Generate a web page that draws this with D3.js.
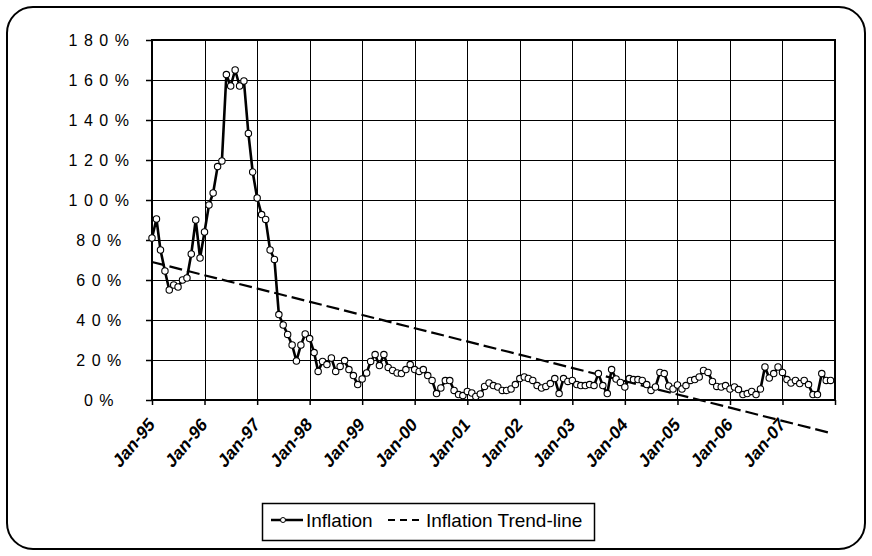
<!DOCTYPE html>
<html>
<head>
<meta charset="utf-8">
<script src="https://cdn.jsdelivr.net/npm/d3@7"></script>
<style>
  body { margin: 0; background: #fff; }
  svg { font-family: "Liberation Sans", Arial, sans-serif; }
</style>
</head>
<body>
<svg id="chart" width="872" height="556"></svg>
<script>
// monthly inflation, % (Jan-95 .. Dec-07)
const firstMonth = '1995-01';
const inflation = [
  81, 90.5, 75, 64.5, 55, 57.5, 56.5, 60, 61, 73, 90, 71,
  84, 97.5, 103.5, 116.7, 119.5, 162.7, 157, 165, 157, 159.5, 133.3, 114,
  101, 92.7, 90.3, 75, 70.3, 42.7, 37.5, 32.8, 27.5, 19.5, 27.5, 33,
  30.7, 23.7, 14.3, 19.3, 17.7, 21, 14.3, 16.8, 19.7, 15.2, 12.2, 7.7,
  10.5, 13.5, 19.3, 22.7, 17.2, 22.7, 16.3, 14.8, 13.5, 13.2, 15.2, 17.7,
  15.2, 14.3, 15.2, 12.2, 9.8, 3.2, 6, 9.7, 9.7, 4.8, 2.7, 2.2,
  4.3, 3.5, 1.8, 3, 6.8, 8.5, 7.2, 6.5, 4.8, 4.8, 5.5, 7.7,
  10.7, 11.5, 10.8, 9.8, 7.2, 6, 6.8, 8.2, 10.7, 3.2, 10.7, 9.3,
  9.8, 7.7, 7.2, 7.2, 7.7, 7.2, 13.2, 7.2, 3.2, 15.2, 10.5, 8.8,
  6.5, 10.7, 10.2, 10.2, 9.8, 7.7, 4.8, 6.5, 13.8, 13.2, 7, 5.5,
  7.5, 5.5, 7.2, 9.8, 10.2, 11.5, 14.8, 13.8, 9.3, 6.8, 6.5, 7.2,
  5.5, 6.5, 5.2, 2.7, 3.2, 4.3, 2.7, 5.5, 16.5, 11, 13.2, 16.5,
  13.8, 10.2, 8.5, 9.8, 8.2, 9.8, 7.7, 2.7, 2.7, 13.2, 9.8, 9.8
];
const trendMonths = ['1995-01', '2007-12'];
const trendValues = [69, -16.5];
const yTicks = [0, 20, 40, 60, 80, 100, 120, 140, 160, 180];
const xDomain = ['1995-01', '2008-01'];
const legendLabels = ['Inflation', 'Inflation Trend-line'];

const parse = d3.timeParse('%Y-%m');
const start = parse(firstMonth);
const series = inflation.map((v, i) => ({ date: d3.timeMonth.offset(start, i), value: v }));
const trend = trendMonths.map((m, i) => ({ date: parse(m), value: trendValues[i] }));

const svg = d3.select('#chart');
const plot = { left: 152, right: 835, top: 40, bottom: 400 };

const x = d3.scaleTime()
  .domain(xDomain.map(parse))
  .range([plot.left, plot.right]);
const y = d3.scaleLinear()
  .domain([0, 180])
  .range([plot.bottom, plot.top]);

// outer rounded frame
svg.append('rect')
  .attr('x', 7).attr('y', 7)
  .attr('width', 858).attr('height', 542)
  .attr('rx', 26).attr('ry', 26)
  .attr('fill', '#fff')
  .attr('stroke', '#000')
  .attr('stroke-width', 2);

const yearTicks = d3.timeYear.range(parse(xDomain[0]), d3.timeMonth.offset(parse(xDomain[1]), 1));

// grid
const grid = svg.append('g').attr('stroke', '#000').attr('stroke-width', 1);
grid.selectAll('.h').data(yTicks).enter().append('line')
  .attr('x1', plot.left).attr('x2', plot.right)
  .attr('y1', (d) => y(d) + 0.5).attr('y2', (d) => y(d) + 0.5);
grid.selectAll('.v').data(yearTicks).enter().append('line')
  .attr('x1', (d) => Math.round(x(d)) + 0.5).attr('x2', (d) => Math.round(x(d)) + 0.5)
  .attr('y1', plot.top).attr('y2', plot.bottom);

// axes
const yAxis = svg.append('g')
  .attr('transform', `translate(${plot.left},0)`)
  .call(d3.axisLeft(y).tickValues(yTicks).tickSize(6).tickFormat((d) => d + '%'));
yAxis.select('.domain').remove();
yAxis.selectAll('line').attr('stroke', '#000').attr('stroke-width', 1.5);
yAxis.selectAll('text')
  .attr('font-size', 16)
  .attr('font-family', '"Liberation Sans", Arial, sans-serif')
  .attr('fill', '#000')
  .attr('letter-spacing', 6.5)
  .attr('text-anchor', 'middle')
  .attr('x', -50);

const fmt = d3.timeFormat('%b-%y');
const xAxis = svg.append('g')
  .attr('transform', `translate(0,${plot.bottom})`)
  .call(d3.axisBottom(x).tickValues(yearTicks).tickSize(5)
    .tickFormat((d) => d < parse(xDomain[1]) ? fmt(d) : ''));
xAxis.select('.domain').remove();
xAxis.selectAll('line').attr('stroke', '#000').attr('stroke-width', 1.5);
xAxis.selectAll('text')
  .attr('font-size', 16)
  .attr('font-weight', 'bold')
  .attr('font-family', '"Liberation Sans", Arial, sans-serif')
  .attr('fill', '#000')
  .attr('text-anchor', 'end')
  .attr('y', 0)
  .attr('dy', '0.35em')
  .attr('transform', 'translate(-1,21) scale(1,1.2) rotate(-45)');

// plot frame
svg.append('rect')
  .attr('x', plot.left).attr('y', plot.top)
  .attr('width', plot.right - plot.left).attr('height', plot.bottom - plot.top)
  .attr('fill', 'none')
  .attr('stroke', '#000')
  .attr('stroke-width', 2);

// trend line (Excel lets it run past the axis)
svg.append('path')
  .datum(trend)
  .attr('fill', 'none')
  .attr('stroke', '#000')
  .attr('stroke-width', 2.2)
  .attr('stroke-dasharray', '13,5')
  .attr('d', d3.line().x((d) => x(d.date)).y((d) => y(d.value)));

// inflation line + markers
svg.append('path')
  .datum(series)
  .attr('fill', 'none')
  .attr('stroke', '#000')
  .attr('stroke-width', 2.6)
  .attr('stroke-linejoin', 'round')
  .attr('d', d3.line().x((d) => x(d.date)).y((d) => y(d.value)));

svg.append('g').selectAll('circle')
  .data(series)
  .enter()
  .append('circle')
    .attr('cx', (d) => x(d.date))
    .attr('cy', (d) => y(d.value))
    .attr('r', 3.2)
    .attr('fill', '#fff')
    .attr('stroke', '#000')
    .attr('stroke-width', 1.1);

// legend
const legend = svg.append('g');
legend.append('rect')
  .attr('x', 262.5).attr('y', 503.5)
  .attr('width', 332).attr('height', 37)
  .attr('fill', '#fff')
  .attr('stroke', '#000')
  .attr('stroke-width', 1.5);
legend.append('line')
  .attr('x1', 271).attr('x2', 303).attr('y1', 520).attr('y2', 520)
  .attr('stroke', '#000').attr('stroke-width', 2.5);
legend.append('circle')
  .attr('cx', 283).attr('cy', 520).attr('r', 2.5)
  .attr('fill', '#fff').attr('stroke', '#000').attr('stroke-width', 1);
legend.append('line')
  .attr('x1', 388).attr('x2', 419).attr('y1', 520).attr('y2', 520)
  .attr('stroke', '#000').attr('stroke-width', 2)
  .attr('stroke-dasharray', '7,5');
legend.selectAll('text')
  .data(legendLabels)
  .enter()
  .append('text')
    .attr('x', (d, i) => i === 0 ? 306 : 426)
    .attr('y', 527)
    .attr('font-size', 19)
    .attr('fill', '#000')
    .text((d) => d);
</script>
</body>
</html>
